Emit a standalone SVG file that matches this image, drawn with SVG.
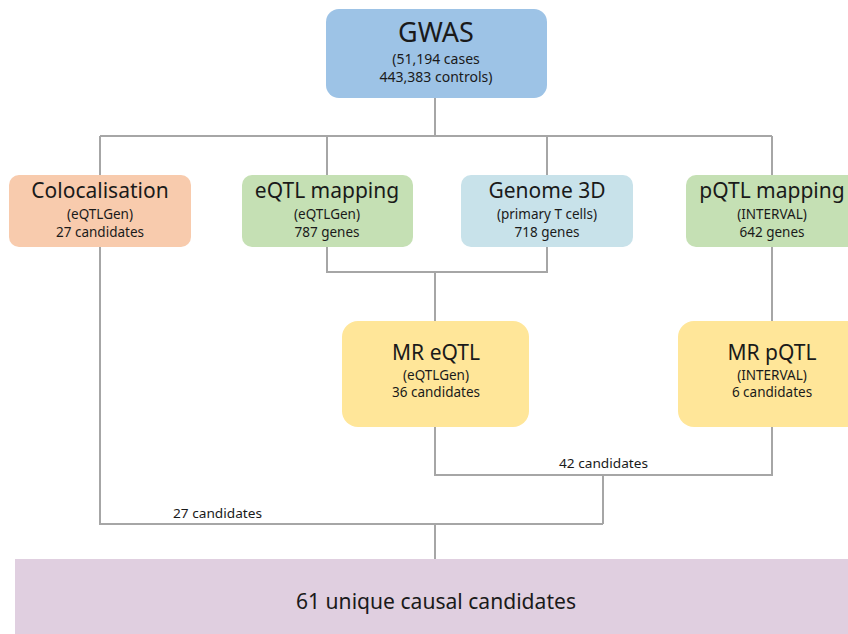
<svg xmlns="http://www.w3.org/2000/svg" width="848" height="634" viewBox="0 0 848 634">
<style>
.t{font-family:"Noto Sans","Open Sans","Liberation Sans",sans-serif;fill:#1a1a1a;text-anchor:middle}
.h{font-size:21px}
.s{font-size:13.5px}
.c{stroke:#a6a6a6;stroke-width:2;fill:none}
.lbl{font-family:"Noto Sans","Liberation Sans",sans-serif;font-size:13px;fill:#1a1a1a}
</style>
<rect width="848" height="634" fill="#ffffff"/>
<g id="connectors">
<path class="c" d="M435 98V136M100 136H772M100 136V175M327 136V175M547 136V175M772 136V175"/>
<path class="c" d="M327 247V272H547V247M435 272V321M772 247V321"/>
<path class="c" d="M435 427V475H772V427M603 475V524M100 247V524H603M435 523V559"/>
<text class="lbl" x="559" y="468" textLength="89" lengthAdjust="spacingAndGlyphs">42 candidates</text>
<text class="lbl" x="173" y="518" textLength="89" lengthAdjust="spacingAndGlyphs">27 candidates</text>
</g>
<g id="gwas">
<rect x="326" y="9" width="221" height="89" rx="13" fill="#9dc3e6"/>
<text class="t" x="436" y="42" font-size="27">GWAS</text>
<text class="t" x="436" y="64" font-size="14">(51,194 cases</text>
<text class="t" x="436" y="82" font-size="14">443,383 controls)</text>
</g>
<g id="colocalisation">
<rect x="9" y="175" width="182" height="72" rx="10" fill="#f8cbad"/>
<text class="t h" x="100" y="198">Colocalisation</text>
<text class="t s" x="100" y="219">(eQTLGen)</text>
<text class="t s" x="100" y="237">27 candidates</text>
</g>
<g id="eqtl-mapping">
<rect x="242" y="175" width="171" height="72" rx="10" fill="#c5e0b4"/>
<text class="t h" x="327" y="198">eQTL mapping</text>
<text class="t s" x="327" y="219">(eQTLGen)</text>
<text class="t s" x="327" y="237">787 genes</text>
</g>
<g id="genome-3d">
<rect x="461" y="175" width="172" height="72" rx="10" fill="#c8e2ea"/>
<text class="t h" x="547" y="198">Genome 3D</text>
<text class="t s" x="547" y="219">(primary T cells)</text>
<text class="t s" x="547" y="237">718 genes</text>
</g>
<g id="pqtl-mapping">
<rect x="686" y="175" width="180" height="72" rx="10" fill="#c5e0b4"/>
<text class="t h" x="772" y="198">pQTL mapping</text>
<text class="t s" x="772" y="219">(INTERVAL)</text>
<text class="t s" x="772" y="237">642 genes</text>
</g>
<g id="mr-eqtl">
<rect x="342" y="321" width="187" height="106" rx="16" fill="#ffe699"/>
<text class="t h" x="436" y="360">MR eQTL</text>
<text class="t s" x="436" y="380">(eQTLGen)</text>
<text class="t s" x="436" y="397">36 candidates</text>
</g>
<g id="mr-pqtl">
<rect x="678" y="321" width="190" height="106" rx="16" fill="#ffe699"/>
<text class="t h" x="772" y="360">MR pQTL</text>
<text class="t s" x="772" y="380">(INTERVAL)</text>
<text class="t s" x="772" y="397">6 candidates</text>
</g>
<g id="result">
<rect x="15" y="559" width="840" height="80" fill="#e0cfe0"/>
<text class="t" x="436" y="609" font-size="22" textLength="280" lengthAdjust="spacingAndGlyphs">61 unique causal candidates</text>
</g>
</svg>
